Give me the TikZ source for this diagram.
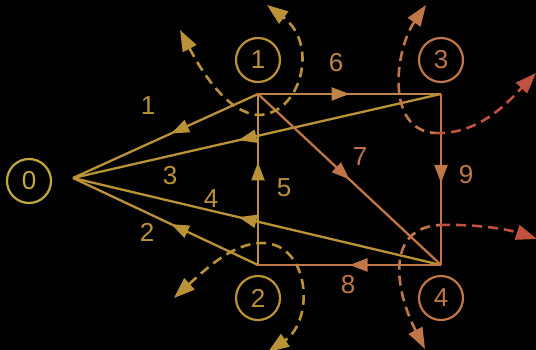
\documentclass[tikz,border=0pt]{standalone}
\usepackage{fontspec}
\setmainfont{Liberation Sans}
\usetikzlibrary{arrows.meta,decorations.markings}
\definecolor{cgold}{RGB}{186,146,56}
\definecolor{cyel}{RGB}{192,170,62}
\definecolor{camber}{RGB}{192,134,72}
\definecolor{corange}{RGB}{192,118,70}
\definecolor{cred}{RGB}{194,82,64}
\tikzset{
  edge/.style={line width=2.3pt, postaction={decorate},
    decoration={markings, mark=at position #1 with {\arrow{Triangle[length=18pt,width=13pt]}}}},
  edge/.default=0.5,
  cut/.style={line width=2.6pt, dash pattern=on 10pt off 6pt},
  cuttip/.style={-{Triangle[length=21pt,width=15pt]}},
  lbl/.style={font=\fontsize{26}{26}\selectfont, inner sep=0pt},
  vcirc/.style={circle, draw, line width=2.2pt, minimum size=44pt, inner sep=0pt,
    font=\fontsize{26}{26}\selectfont}
}
\begin{document}
\begin{tikzpicture}[x=1pt,y=-1pt]
\fill[black] (0,0) rectangle (536,350);
\useasboundingbox (0,0) rectangle (536,350);
% vertices
\coordinate (v0) at (73,178);
\coordinate (v1) at (258,94);
\coordinate (v2) at (258,265);
\coordinate (v3) at (441,94);
\coordinate (v4) at (441,265);
% vertex labels
\node[vcirc, cyel, text=cyel] (c0) at (29,181) {0};
\node[vcirc, cgold, text=cgold] (c1) at (258,60) {1};
\node[vcirc, cgold, text=cgold] (c2) at (258,298) {2};
\node[vcirc, corange, text=corange] (c3) at (441,60) {3};
\node[vcirc, corange, text=corange] (c4) at (441,298) {4};
% edges
\draw[edge=0.47, cgold] (v1) -- (v0);
\draw[edge=0.47, cgold] (v2) -- (v0);
\draw[edge=0.55, cgold] (v3) -- (v0);
\draw[edge=0.55, cgold] (v4) -- (v0);
\draw[edge=0.6, cgold] (v2) -- (v1);
\draw[edge=0.5, camber] (v1) -- (v3);
\draw[edge=0.5, corange] (v1) -- (v4);
\draw[edge=0.5, corange] (v4) -- (v2);
\draw[edge=0.52, corange] (v3) -- (v4);
% edge labels
\node[lbl, text=cgold] (l1) at (148,106) {1};
\node[lbl, text=cgold] (l2) at (147,232) {2};
\node[lbl, text=cgold] (l3) at (170,176) {3};
\node[lbl, text=cgold] (l4) at (211,199) {4};
\node[lbl, text=cgold] (l5) at (284,188) {5};
\node[lbl, text=camber] (l6) at (336,63) {6};
\node[lbl, text=corange] (l7) at (360,157) {7};
\node[lbl, text=corange] (l8) at (348,285) {8};
\node[lbl, text=corange] (l9) at (466,175) {9};
% cuts
\coordinate (a1) at (180,30);
\coordinate (m1) at (258,115);
\coordinate (b1) at (267,5);
\draw[cut, cgold, {Triangle[length=21pt,width=15pt]}-{Triangle[length=21pt,width=15pt]}]
  (a1) .. controls (205,78) and (230,113) .. (m1) .. controls (300,115) and (320,45) .. (b1);
\coordinate (a2) at (174,298);
\coordinate (m2) at (262,243);
\coordinate (b2) at (268,352);
\draw[cut, cgold, {Triangle[length=21pt,width=15pt]}-{Triangle[length=21pt,width=15pt]}]
  (a2) .. controls (210,265) and (235,243) .. (m2) .. controls (310,243) and (315,320) .. (b2);
\coordinate (a3) at (426,5);
\coordinate (m3) at (435,133);
\coordinate (b3) at (536,73);
\draw[cut, corange, {Triangle[length=21pt,width=15pt]}-]
  (a3) .. controls (395,50) and (385,130) .. (m3);
\draw[cut, cred, cuttip]
  (m3) .. controls (480,135) and (510,100) .. (b3);
\coordinate (a4) at (425,349);
\coordinate (m4) at (440,225);
\coordinate (b4) at (537,239);
\draw[cut, corange, {Triangle[length=21pt,width=15pt]}-]
  (a4) .. controls (395,290) and (385,228) .. (m4);
\draw[cut, cred, cuttip]
  (m4) .. controls (480,224) and (510,230) .. (b4);
\end{tikzpicture}
\end{document}
